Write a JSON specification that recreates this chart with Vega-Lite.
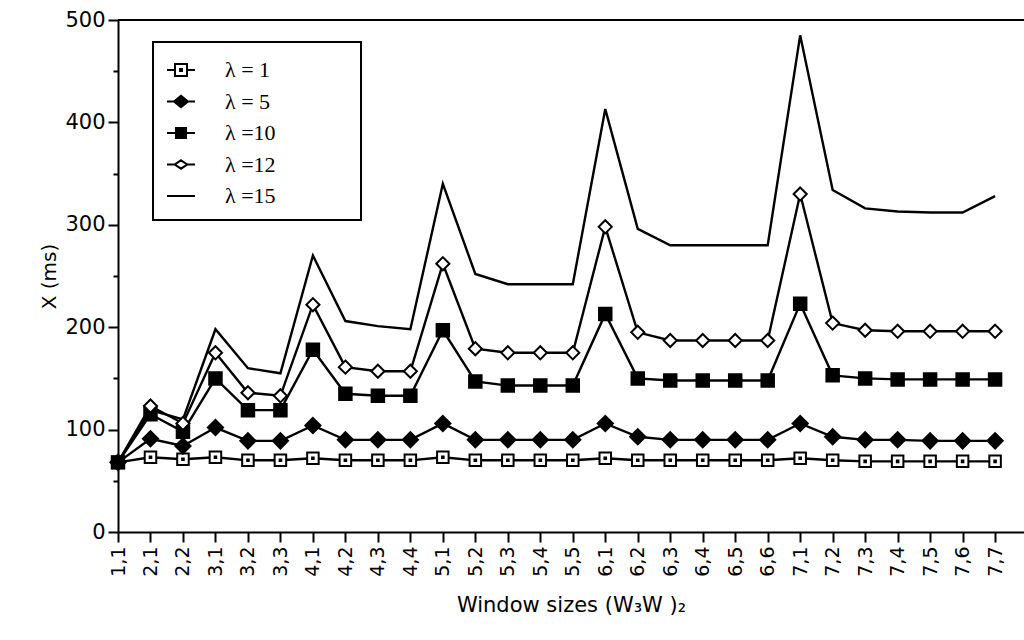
{
  "$schema": "https://vega.github.io/schema/vega-lite/v6.json",
  "width": 906,
  "height": 512,
  "autosize": {"type": "none"},
  "padding": {"left": 118, "top": 20, "right": 0, "bottom": 108},
  "background": "white",
  "config": {
    "view": {"stroke": null},
    "font": "DejaVu Sans",
    "legend": {"strokeWidth": 2}
  },
  "data": {"values": [
    {"w":"1,1","s":"λ = 1","v":68},{"w":"2,1","s":"λ = 1","v":73},{"w":"2,2","s":"λ = 1","v":71},{"w":"3,1","s":"λ = 1","v":73},{"w":"3,2","s":"λ = 1","v":70},{"w":"3,3","s":"λ = 1","v":70},{"w":"4,1","s":"λ = 1","v":72},{"w":"4,2","s":"λ = 1","v":70},{"w":"4,3","s":"λ = 1","v":70},{"w":"4,4","s":"λ = 1","v":70},{"w":"5,1","s":"λ = 1","v":73},{"w":"5,2","s":"λ = 1","v":70},{"w":"5,3","s":"λ = 1","v":70},{"w":"5,4","s":"λ = 1","v":70},{"w":"5,5","s":"λ = 1","v":70},{"w":"6,1","s":"λ = 1","v":72},{"w":"6,2","s":"λ = 1","v":70},{"w":"6,3","s":"λ = 1","v":70},{"w":"6,4","s":"λ = 1","v":70},{"w":"6,5","s":"λ = 1","v":70},{"w":"6,6","s":"λ = 1","v":70},{"w":"7,1","s":"λ = 1","v":72},{"w":"7,2","s":"λ = 1","v":70},{"w":"7,3","s":"λ = 1","v":69},{"w":"7,4","s":"λ = 1","v":69},{"w":"7,5","s":"λ = 1","v":69},{"w":"7,6","s":"λ = 1","v":69},{"w":"7,7","s":"λ = 1","v":69},
    {"w":"1,1","s":"λ = 5","v":68},{"w":"2,1","s":"λ = 5","v":91},{"w":"2,2","s":"λ = 5","v":84},{"w":"3,1","s":"λ = 5","v":102},{"w":"3,2","s":"λ = 5","v":89},{"w":"3,3","s":"λ = 5","v":89},{"w":"4,1","s":"λ = 5","v":104},{"w":"4,2","s":"λ = 5","v":90},{"w":"4,3","s":"λ = 5","v":90},{"w":"4,4","s":"λ = 5","v":90},{"w":"5,1","s":"λ = 5","v":106},{"w":"5,2","s":"λ = 5","v":90},{"w":"5,3","s":"λ = 5","v":90},{"w":"5,4","s":"λ = 5","v":90},{"w":"5,5","s":"λ = 5","v":90},{"w":"6,1","s":"λ = 5","v":106},{"w":"6,2","s":"λ = 5","v":93},{"w":"6,3","s":"λ = 5","v":90},{"w":"6,4","s":"λ = 5","v":90},{"w":"6,5","s":"λ = 5","v":90},{"w":"6,6","s":"λ = 5","v":90},{"w":"7,1","s":"λ = 5","v":106},{"w":"7,2","s":"λ = 5","v":93},{"w":"7,3","s":"λ = 5","v":90},{"w":"7,4","s":"λ = 5","v":90},{"w":"7,5","s":"λ = 5","v":89},{"w":"7,6","s":"λ = 5","v":89},{"w":"7,7","s":"λ = 5","v":89},
    {"w":"2,1","s":"λ =10","v":115},{"w":"2,2","s":"λ =10","v":98},{"w":"3,1","s":"λ =10","v":150},{"w":"3,2","s":"λ =10","v":119},{"w":"3,3","s":"λ =10","v":119},{"w":"4,1","s":"λ =10","v":178},{"w":"4,2","s":"λ =10","v":135},{"w":"4,3","s":"λ =10","v":133},{"w":"4,4","s":"λ =10","v":133},{"w":"5,1","s":"λ =10","v":197},{"w":"5,2","s":"λ =10","v":147},{"w":"5,3","s":"λ =10","v":143},{"w":"5,4","s":"λ =10","v":143},{"w":"5,5","s":"λ =10","v":143},{"w":"6,1","s":"λ =10","v":213},{"w":"6,2","s":"λ =10","v":150},{"w":"6,3","s":"λ =10","v":148},{"w":"6,4","s":"λ =10","v":148},{"w":"6,5","s":"λ =10","v":148},{"w":"6,6","s":"λ =10","v":148},{"w":"7,1","s":"λ =10","v":223},{"w":"7,2","s":"λ =10","v":153},{"w":"7,3","s":"λ =10","v":150},{"w":"7,4","s":"λ =10","v":149},{"w":"7,5","s":"λ =10","v":149},{"w":"7,6","s":"λ =10","v":149},{"w":"7,7","s":"λ =10","v":149},
    {"w":"1,1","s":"λ =12","v":68},{"w":"2,1","s":"λ =12","v":123},{"w":"2,2","s":"λ =12","v":106},{"w":"3,1","s":"λ =12","v":175},{"w":"3,2","s":"λ =12","v":136},{"w":"3,3","s":"λ =12","v":133},{"w":"4,1","s":"λ =12","v":222},{"w":"4,2","s":"λ =12","v":161},{"w":"4,3","s":"λ =12","v":157},{"w":"4,4","s":"λ =12","v":157},{"w":"5,1","s":"λ =12","v":262},{"w":"5,2","s":"λ =12","v":179},{"w":"5,3","s":"λ =12","v":175},{"w":"5,4","s":"λ =12","v":175},{"w":"5,5","s":"λ =12","v":175},{"w":"6,1","s":"λ =12","v":298},{"w":"6,2","s":"λ =12","v":195},{"w":"6,3","s":"λ =12","v":187},{"w":"6,4","s":"λ =12","v":187},{"w":"6,5","s":"λ =12","v":187},{"w":"6,6","s":"λ =12","v":187},{"w":"7,1","s":"λ =12","v":330},{"w":"7,2","s":"λ =12","v":204},{"w":"7,3","s":"λ =12","v":197},{"w":"7,4","s":"λ =12","v":196},{"w":"7,5","s":"λ =12","v":196},{"w":"7,6","s":"λ =12","v":196},{"w":"7,7","s":"λ =12","v":196},
    {"w":"1,1","s":"λ =15","v":68},{"w":"2,1","s":"λ =15","v":119},{"w":"2,2","s":"λ =15","v":110},{"w":"3,1","s":"λ =15","v":198},{"w":"3,2","s":"λ =15","v":160},{"w":"3,3","s":"λ =15","v":155},{"w":"4,1","s":"λ =15","v":270},{"w":"4,2","s":"λ =15","v":206},{"w":"4,3","s":"λ =15","v":201},{"w":"4,4","s":"λ =15","v":198},{"w":"5,1","s":"λ =15","v":340},{"w":"5,2","s":"λ =15","v":252},{"w":"5,3","s":"λ =15","v":242},{"w":"5,4","s":"λ =15","v":242},{"w":"5,5","s":"λ =15","v":242},{"w":"6,1","s":"λ =15","v":413},{"w":"6,2","s":"λ =15","v":296},{"w":"6,3","s":"λ =15","v":280},{"w":"6,4","s":"λ =15","v":280},{"w":"6,5","s":"λ =15","v":280},{"w":"6,6","s":"λ =15","v":280},{"w":"7,1","s":"λ =15","v":485},{"w":"7,2","s":"λ =15","v":334},{"w":"7,3","s":"λ =15","v":316},{"w":"7,4","s":"λ =15","v":313},{"w":"7,5","s":"λ =15","v":312},{"w":"7,6","s":"λ =15","v":312},{"w":"7,7","s":"λ =15","v":328},
    {"w":"1,1","s":"λ =10","v":68}
  ]},
  "layer": [
    {
      "mark": {"type": "line", "color": "black", "strokeWidth": 2.4},
      "encoding": {
        "x": {
          "field": "w", "type": "ordinal",
          "scale": {"type": "point", "padding": 0.445, "align": 0, "domain": ["1,1","2,1","2,2","3,1","3,2","3,3","4,1","4,2","4,3","4,4","5,1","5,2","5,3","5,4","5,5","6,1","6,2","6,3","6,4","6,5","6,6","7,1","7,2","7,3","7,4","7,5","7,6","7,7"]},
          "axis": {
            "title": "Window sizes (W₃W )₂",
            "titleFont": "DejaVu Sans", "titleFontSize": 21, "titleFontWeight": "normal", "titleColor": "black", "titlePadding": 18,
            "labelAngle": -90, "labelFont": "DejaVu Sans", "labelFontSize": 19, "labelColor": "black", "labelPadding": 4,
            "tickSize": 10, "tickWidth": 2, "tickColor": "black",
            "domainColor": "black", "domainWidth": 2, "grid": false
          }
        },
        "y": {
          "field": "v", "type": "quantitative",
          "scale": {"domain": [0, 500], "nice": false, "zero": true},
          "axis": {
            "title": "X (ms)",
            "titleFont": "DejaVu Sans", "titleFontSize": 20, "titleFontWeight": "normal", "titleColor": "black", "titlePadding": 5,
            "values": [0, 50, 100, 150, 200, 250, 300, 350, 400, 450, 500],
            "labelExpr": "datum.value % 100 == 0 ? datum.label : ''",
            "labelFont": "DejaVu Sans", "labelFontSize": 21, "labelColor": "black", "labelPadding": 3,
            "tickSize": {"condition": {"test": "datum.value % 100 == 0", "value": 10}, "value": 5},
            "tickWidth": 2, "tickColor": "black",
            "domainColor": "black", "domainWidth": 2, "grid": false
          }
        },
        "detail": {"field": "s"}
      }
    },
    {
      "mark": {"type": "rule", "color": "black", "strokeWidth": 2},
      "encoding": {"y": {"datum": 500, "type": "quantitative"}}
    },
    {
      "transform": [{"filter": "datum.s != 'λ =15'"}],
      "mark": {"type": "point", "stroke": "black", "strokeWidth": 2, "opacity": 1, "fillOpacity": 1, "size": 256},
      "encoding": {
        "x": {"field": "w", "type": "ordinal"},
        "y": {"field": "v", "type": "quantitative"},
        "shape": {
          "field": "s", "type": "nominal", "legend": null,
          "scale": {"domain": ["λ = 1", "λ = 5", "λ =10", "λ =12", "λ =15"],
                    "range": [
                      "M-0.72,-0.72H0.72V0.72H-0.72Z M-0.1,-0.1H0.1V0.1H-0.1Z",
                      "M0,-0.95L0.95,0L0,0.95L-0.95,0Z",
                      "M-0.78,-0.78H0.78V0.78H-0.78Z",
                      "M0,-0.82L0.82,0L0,0.82L-0.82,0Z",
                      "M0,0"]}
        },
        "fill": {
          "field": "s", "type": "nominal", "legend": null,
          "scale": {"domain": ["λ = 1", "λ = 5", "λ =10", "λ =12", "λ =15"],
                    "range": ["white", "black", "black", "white", "black"]}
        }
      }
    },
    {
      "transform": [{"filter": "false"}],
      "mark": {"type": "point", "filled": false, "strokeWidth": 2, "opacity": 1, "fillOpacity": 1},
      "encoding": {
        "x": {"field": "w", "type": "ordinal"},
        "y": {"field": "v", "type": "quantitative"},
        "shape": {
          "field": "s", "type": "nominal",
          "scale": {"domain": ["λ = 1", "λ = 5", "λ =10", "λ =12", "λ =15"],
                    "range": [
                      "M-1,0H-0.43M0.43,0H1M-0.43,-0.43H0.43V0.43H-0.43Z M-0.07,-0.07H0.07V0.07H-0.07Z",
                      "M-1,0H-0.5M0.5,0H1M0,-0.4L0.5,0L0,0.4L-0.5,0Z",
                      "M-1,0H-0.36M0.36,0H1M-0.36,-0.36H0.36V0.36H-0.36Z",
                      "M-1,0H-0.45M0.45,0H1M0,-0.3L0.45,0L0,0.3L-0.45,0Z",
                      "M-1,0H1"]},
          "legend": {
            "title": null, "orient": "none", "legendX": 35, "legendY": 22,
            "symbolSize": 784, "symbolStrokeWidth": 2,
            "labelFont": "Liberation Serif", "labelFontSize": 22, "labelColor": "black", "labelOffset": 29,
            "labelExpr": "datum.label + '\u00a0\u00a0\u00a0\u00a0\u00a0\u00a0\u00a0\u00a0\u00a0\u00a0\u00a0\u00a0\u00a0\u200b'",
            "padding": 13, "rowPadding": 5.5,
            "strokeColor": "black", "fillColor": "white"
          }
        },
        "color": {
          "field": "s", "type": "nominal",
          "scale": {"domain": ["λ = 1", "λ = 5", "λ =10", "λ =12", "λ =15"],
                    "range": ["black", "black", "black", "black", "black"]},
          "legend": {
            "title": null, "orient": "none", "legendX": 35, "legendY": 22,
            "symbolSize": 784, "symbolStrokeWidth": 2,
            "labelFont": "Liberation Serif", "labelFontSize": 22, "labelColor": "black", "labelOffset": 29,
            "labelExpr": "datum.label + '\u00a0\u00a0\u00a0\u00a0\u00a0\u00a0\u00a0\u00a0\u00a0\u00a0\u00a0\u00a0\u00a0\u200b'",
            "padding": 13, "rowPadding": 5.5,
            "strokeColor": "black", "fillColor": "white"
          }
        },
        "fill": {
          "field": "s", "type": "nominal",
          "scale": {"domain": ["λ = 1", "λ = 5", "λ =10", "λ =12", "λ =15"],
                    "range": ["white", "black", "black", "white", "black"]},
          "legend": {
            "title": null, "orient": "none", "legendX": 35, "legendY": 22,
            "symbolSize": 784, "symbolStrokeWidth": 2,
            "labelFont": "Liberation Serif", "labelFontSize": 22, "labelColor": "black", "labelOffset": 29,
            "labelExpr": "datum.label + '\u00a0\u00a0\u00a0\u00a0\u00a0\u00a0\u00a0\u00a0\u00a0\u00a0\u00a0\u00a0\u00a0\u200b'",
            "padding": 13, "rowPadding": 5.5,
            "strokeColor": "black", "fillColor": "white"
          }
        }
      }
    }
  ],
  "resolve": {"scale": {"shape": "independent", "fill": "independent", "color": "independent"}}
}
